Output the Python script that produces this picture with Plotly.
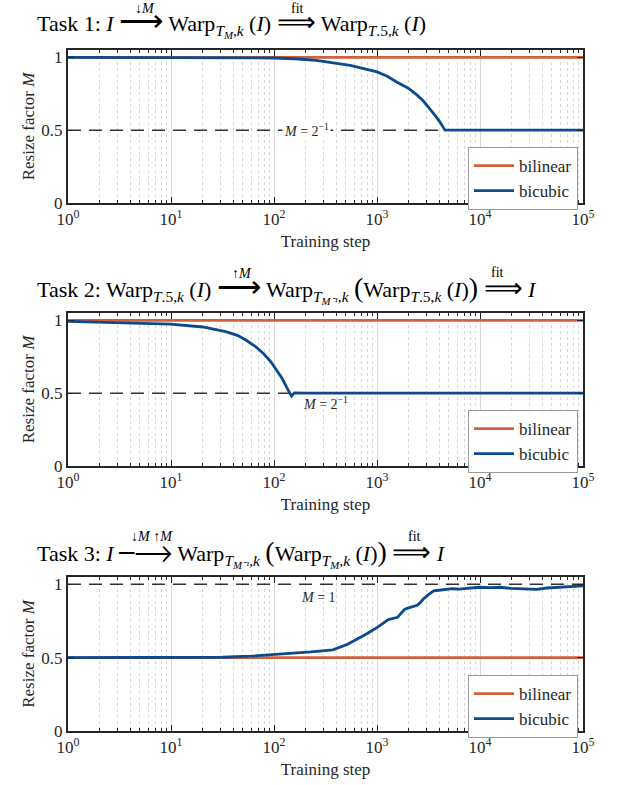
import plotly.graph_objects as go

# ---------------- data ----------------
x_range_steps = [1, 100000]

# Task 1
t1_bilinear_steps = [1, 100000]
t1_bilinear_M = [1.0, 1.0]
t1_bicubic_steps = [1, 10, 59, 100, 158, 257, 550, 794, 1000, 1259, 1549, 1995, 2455,
                    2818, 3236, 3631, 4074, 4266, 4571, 100000]
t1_bicubic_M = [1.0, 1.0, 0.998, 0.995, 0.99, 0.979, 0.945, 0.92, 0.90, 0.87, 0.83, 0.79, 0.74,
                0.70, 0.65, 0.605, 0.557, 0.535, 0.5, 0.5]
t1_ref_M = [0.5, 0.5]

# Task 2
t2_bilinear_steps = [1, 100000]
t2_bilinear_M = [1.0, 1.0]
t2_bicubic_steps = [1, 3.16, 9.8, 20.4, 34.7, 44.7, 53.7, 66.1, 79.4, 93.3, 107, 120, 132,
                    148, 158, 200, 100000]
t2_bicubic_M = [0.993, 0.985, 0.973, 0.954, 0.92, 0.895, 0.863, 0.82, 0.77, 0.715, 0.657,
                0.60, 0.543, 0.48, 0.502, 0.5, 0.5]
t2_ref_M = [0.5, 0.5]

# Task 3
t3_bilinear_steps = [1, 100000]
t3_bilinear_M = [0.5, 0.5]
t3_bicubic_steps = [1, 10, 31.6, 58.9, 100, 229, 372, 513, 813, 1023, 1288, 1479, 1585, 1698,
                    1862, 2138, 2291, 2455, 2630, 2818, 3162, 3548, 3802, 4467, 5370, 6310,
                    7943, 9772, 12589, 15849, 19953, 28184, 35481, 44668, 51286, 63096,
                    79433, 100000]
t3_bicubic_M = [0.5, 0.5, 0.503, 0.51, 0.52, 0.539, 0.553, 0.59, 0.667, 0.71, 0.76, 0.77,
                0.775, 0.80, 0.83, 0.845, 0.85, 0.857, 0.875, 0.90, 0.93, 0.955, 0.958,
                0.962, 0.97, 0.968, 0.975, 0.98, 0.978, 0.98, 0.972, 0.97, 0.965, 0.975,
                0.978, 0.983, 0.99, 0.99]
t3_ref_M = [1.0, 1.0]

x_tick_vals = [1, 10, 100, 1000, 10000, 100000]
x_tick_text = ['10<sup>0</sup>', '10<sup>1</sup>', '10<sup>2</sup>', '10<sup>3</sup>',
               '10<sup>4</sup>', '10<sup>5</sup>']
y_tick_vals = [0, 0.5, 1]
y_tick_text = ['0', '0.5', '1']
series_names = ['bilinear', 'bicubic']

# ---------------- style ----------------
W, H = 617, 785
ORANGE = '#D2613B'
BLUE = '#0C4A8E'
FRAME = '#262626'
FONT = 'Liberation Serif'
X0, X1 = 68, 583
PANELS = [(50, 203), (313, 466), (577, 731)]
minor_vals = [k * 10 ** d for d in range(5) for k in range(2, 10)]

fig = go.Figure()

panel_data = [
    (t1_bilinear_steps, t1_bilinear_M, t1_bicubic_steps, t1_bicubic_M, t1_ref_M),
    (t2_bilinear_steps, t2_bilinear_M, t2_bicubic_steps, t2_bicubic_M, t2_ref_M),
    (t3_bilinear_steps, t3_bilinear_M, t3_bicubic_steps, t3_bicubic_M, t3_ref_M),
]
legend_names = ['legend', 'legend2', 'legend3']

for i, (bls, blm, bcs, bcm, refm) in enumerate(panel_data):
    xa = 'x' if i == 0 else f'x{i+1}'
    ya = 'y' if i == 0 else f'y{i+1}'
    fig.add_trace(go.Scatter(x=x_range_steps, y=refm, mode='lines', xaxis=xa, yaxis=ya,
                             line=dict(color='#333333', width=1.5, dash='13px,8px'),
                             showlegend=False, hoverinfo='skip'))
    fig.add_trace(go.Scatter(x=bls, y=blm, mode='lines', name=series_names[0], xaxis=xa, yaxis=ya,
                             line=dict(color=ORANGE, width=2.8), legend=legend_names[i]))
    fig.add_trace(go.Scatter(x=bcs, y=bcm, mode='lines', name=series_names[1], xaxis=xa, yaxis=ya,
                             line=dict(color=BLUE, width=2.8), legend=legend_names[i]))

layout = dict(width=W, height=H, margin=dict(l=0, r=0, t=0, b=0, autoexpand=False),
              paper_bgcolor='white', plot_bgcolor='white',
              font=dict(family=FONT, color=FRAME, size=16), annotations=[])

for i, (top, bot) in enumerate(PANELS):
    xk = 'xaxis' if i == 0 else f'xaxis{i+1}'
    yk = 'yaxis' if i == 0 else f'yaxis{i+1}'
    ya = 'y' if i == 0 else f'y{i+1}'
    xa = 'x' if i == 0 else f'x{i+1}'
    layout[xk] = dict(type='log', range=[0, 5], domain=[X0 / W, X1 / W], anchor=ya,
                      automargin=False,
                      showline=True, mirror='ticks', linewidth=2, linecolor=FRAME,
                      ticks='inside', ticklen=6, tickcolor=FRAME, tickwidth=1,
                      tickmode='array', tickvals=x_tick_vals, ticktext=x_tick_text,
                      tickfont=dict(size=17, family=FONT, color=FRAME),
                      showgrid=True, gridcolor='#DADADA', gridwidth=1, zeroline=False,
                      minor=dict(tickmode='array', tickvals=minor_vals, ticks='inside',
                                 ticklen=3, tickcolor=FRAME, showgrid=True,
                                 gridcolor='#D6D6D6', griddash='dot', gridwidth=1),
                      title=dict(text='Training step', font=dict(size=17, family=FONT, color=FRAME),
                                 standoff=7))
    layout[yk] = dict(range=[0, 1.05], domain=[(H - bot) / H, (H - top) / H], anchor=xa,
                      automargin=False,
                      showline=True, mirror='ticks', linewidth=2, linecolor=FRAME,
                      ticks='inside', ticklen=6, tickcolor=FRAME,
                      tickmode='array', tickvals=y_tick_vals, ticktext=y_tick_text,
                      tickfont=dict(size=17, family=FONT, color=FRAME),
                      showgrid=False, zeroline=False,
                      title=dict(text='Resize factor <i>M</i>',
                                 font=dict(size=17, family=FONT, color=FRAME), standoff=2))
    lk = legend_names[i]
    layout[lk] = dict(x=578 / W, xanchor='right', y=(H - (bot - 56)) / H, yanchor='top',
                      bordercolor='#9a9a9a', borderwidth=1, bgcolor='white',
                      font=dict(size=17, family=FONT, color=FRAME), tracegroupgap=0,
                      itemwidth=40)

# reference line labels
ann = layout['annotations']
ann.append(dict(x=2.32, y=0.5, xref='x', yref='y', text='<i>M</i> = 2<sup>−1</sup>',
                showarrow=False, bgcolor='white', font=dict(size=14, family=FONT, color=FRAME),
                borderpad=1))
ann.append(dict(x=2.5, y=0.43, xref='x2', yref='y2', text='<i>M</i> = 2<sup>−1</sup>',
                showarrow=False, font=dict(size=14, family=FONT, color=FRAME)))
ann.append(dict(x=2.43, y=0.91, xref='x3', yref='y3', text='<i>M</i> = 1',
                showarrow=False, font=dict(size=14, family=FONT, color=FRAME)))

# panel titles
LA = '<span style="font-size:31px">⟶</span>'
LA3 = '<span style="font-size:31px">⎯⟶</span>'
RA = '<span style="font-size:27px">⟹</span>'
LP = '<span style="font-size:28px">(</span>'
RP = '<span style="font-size:28px">)</span>'
titles = [
    (f'Task 1: <i>I</i> {LA} Warp<sub><i>T<sub>M</sub></i>,<i>k</i></sub> (<i>I</i>) {RA} '
     'Warp<sub><i>T</i>.5,<i>k</i></sub> (<i>I</i>)', 22),
    (f'Task 2: Warp<sub><i>T</i>.5,<i>k</i></sub> (<i>I</i>) {LA} Warp<sub><i>T<sub>M⁻¹</sub></i>,<i>k</i></sub> '
     f'{LP}Warp<sub><i>T</i>.5,<i>k</i></sub> (<i>I</i>){RP} {RA} <i>I</i>', 288),
    (f'Task 3: <i>I</i> {LA3} Warp<sub><i>T<sub>M⁻¹</sub></i>,<i>k</i></sub> '
     f'{LP}Warp<sub><i>T<sub>M</sub></i>,<i>k</i></sub> (<i>I</i>){RP} {RA} <i>I</i>', 552),
]
for text, yc in titles:
    ann.append(dict(x=35 / W, y=(H - yc) / H, xref='paper', yref='paper', xanchor='left',
                    yanchor='middle', text=text, showarrow=False,
                    font=dict(size=22, family=FONT, color='black')))

oversets = [('↓<i>M</i>', 145, 9), ('fit', 297, 9), ('↑<i>M</i>', 242, 273), ('fit', 497, 272),
            ('↓<i>M</i> ↑<i>M</i>', 152, 536), ('fit', 414, 536)]
for text, xc, yc in oversets:
    ann.append(dict(x=xc / W, y=(H - yc) / H, xref='paper', yref='paper', xanchor='center',
                    yanchor='middle', text=text, showarrow=False,
                    font=dict(size=14, family=FONT, color='black')))

fig.update_layout(**layout)
fig.write_html('out.html')
